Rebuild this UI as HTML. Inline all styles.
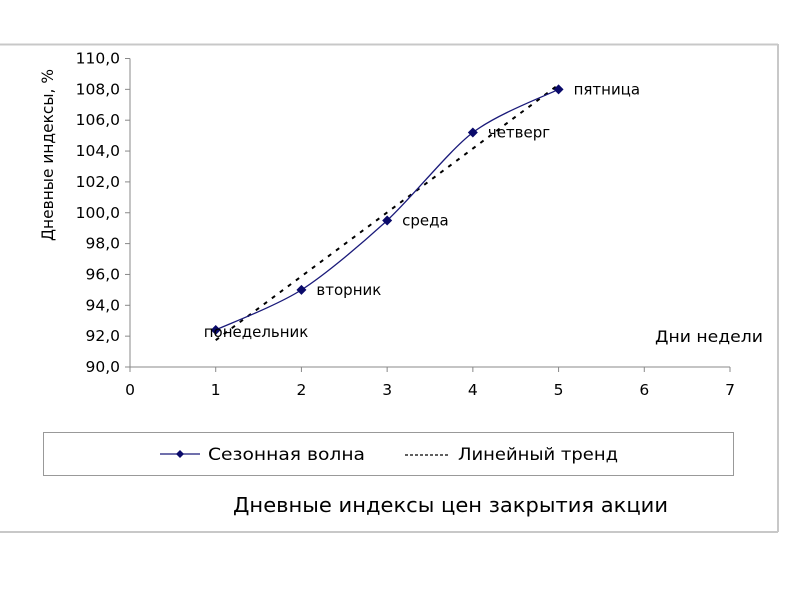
<!DOCTYPE html>
<html><head><meta charset="utf-8"><style>
body{margin:0;background:#fff;}
svg text{font-family:"DejaVu Sans","Liberation Sans",sans-serif;}
</style></head><body>
<svg width="800" height="600" viewBox="0 0 800 600" xmlns="http://www.w3.org/2000/svg">
<line x1="0" y1="44.5" x2="778" y2="44.5" stroke="#c8c8c8" stroke-width="2"/>
<line x1="778" y1="44" x2="778" y2="532" stroke="#c8c8c8" stroke-width="2"/>
<line x1="0" y1="532" x2="778" y2="532" stroke="#c8c8c8" stroke-width="2"/>
<g id="axes"></g>
<g id="marks"></g>
<text x="0" y="0" transform="translate(53,155) rotate(-90)" text-anchor="middle" font-size="16" textLength="172" lengthAdjust="spacingAndGlyphs" fill="#000">Дневные индексы, %</text>
<text x="655" y="342" font-size="16" textLength="108" lengthAdjust="spacingAndGlyphs" fill="#000">Дни недели</text>
<rect x="43.5" y="432.5" width="690" height="43" fill="none" stroke="#999"/>
<g>
<line x1="160" y1="454" x2="200" y2="454" stroke="#1a1a7a" stroke-width="1.2"/>
<path d="M180 450 L184 454 L180 458 L176 454Z" fill="#0a0a6a"/>
<text x="208" y="460" font-size="17" textLength="157" lengthAdjust="spacingAndGlyphs" fill="#000">Сезонная волна</text>
</g>
<g>
<line x1="405" y1="455" x2="449" y2="455" stroke="#000" stroke-width="1.2" stroke-dasharray="3,2"/>
<text x="458" y="460" font-size="17" textLength="160" lengthAdjust="spacingAndGlyphs" fill="#000">Линейный тренд</text>
</g>
<text x="233" y="512" font-size="20" textLength="435" lengthAdjust="spacingAndGlyphs" fill="#000">Дневные индексы цен закрытия акции</text>
</svg>
<script>
const days = [1, 2, 3, 4, 5];
const values = [92.4, 95.0, 99.5, 105.2, 108.0];
const dayNames = ["понедельник", "вторник", "среда", "четверг", "пятница"];
const xTicks = [0, 1, 2, 3, 4, 5, 6, 7];
const yTicks = [90, 92, 94, 96, 98, 100, 102, 104, 106, 108, 110];

const NS = "http://www.w3.org/2000/svg";
const X0 = 130, X1 = 730, Y0 = 367, Y1 = 58.5;
const xs = v => X0 + (v - 0) / 7 * (X1 - X0);
const ys = v => Y0 - (v - 90) / 20 * (Y0 - Y1);
function mk(tag, attrs, parent) { const e = document.createElementNS(NS, tag); for (const k in attrs) e.setAttribute(k, attrs[k]); parent.appendChild(e); return e; }
const axes = document.getElementById('axes'), marks = document.getElementById('marks');

let a = mk('line', {x1: X0, y1: Y1, x2: X0, y2: Y0, stroke: '#888'}, axes);


a = mk('line', {x1: X0, y1: Y0, x2: X1, y2: Y0, stroke: '#888'}, axes);


yTicks.forEach(t => {
  const y = ys(t);
  mk('line', {x1: X0 - 5, y1: y, x2: X0, y2: y, stroke: '#888'}, axes);
  const tx = mk('text', {x: X0 - 10, y: y + 5, 'text-anchor': 'end', 'font-size': 15.5, fill: '#000'}, axes);
  tx.textContent = t.toFixed(1).replace('.', ',');
  
  
});
xTicks.forEach(t => {
  const x = xs(t);
  mk('line', {x1: x, y1: Y0, x2: x, y2: Y0 + 5, stroke: '#888'}, axes);
  const tx = mk('text', {x: x, y: Y0 + 28, 'text-anchor': 'middle', 'font-size': 15.5, fill: '#000'}, axes);
  tx.textContent = t;
  
  
});

const n = days.length;
const mx = days.reduce((s, v) => s + v, 0) / n, my = values.reduce((s, v) => s + v, 0) / n;
let sxy = 0, sxx = 0;
days.forEach((d, i) => { sxy += (d - mx) * (values[i] - my); sxx += (d - mx) * (d - mx); });
const slope = sxy / sxx, icpt = my - slope * mx;
const tr = mk('line', {x1: xs(days[0]), y1: ys(icpt + slope * days[0]), x2: xs(days[n - 1]), y2: ys(icpt + slope * days[n - 1]), stroke: '#000', 'stroke-width': 2, 'stroke-dasharray': '4,6'}, marks);



const P = days.map((d, i) => [xs(d), ys(values[i])]);
let d = `M${P[0][0]},${P[0][1]}`;
for (let i = 0; i < P.length - 1; i++) {
  const p0 = P[Math.max(0, i - 1)], p1 = P[i], p2 = P[i + 1], p3 = P[Math.min(P.length - 1, i + 2)];
  const c1 = [p1[0] + (p2[0] - p0[0]) / 7, p1[1] + (p2[1] - p0[1]) / 7];
  const c2 = [p2[0] - (p3[0] - p1[0]) / 7, p2[1] - (p3[1] - p1[1]) / 7];
  d += ` C${c1[0]},${c1[1]} ${c2[0]},${c2[1]} ${p2[0]},${p2[1]}`;
}
const ln = mk('path', {d: d, fill: 'none', stroke: '#1a1a7a', 'stroke-width': 1.3}, marks);



P.forEach((p, i) => {
  const m = mk('path', {d: `M${p[0]} ${p[1] - 5} L${p[0] + 5} ${p[1]} L${p[0]} ${p[1] + 5} L${p[0] - 5} ${p[1]}Z`, fill: '#0a0a6a'}, marks);
  
  
  const lab = mk('text', {x: i === 0 ? p[0] - 12 : p[0] + 15, y: i === 0 ? p[1] + 7 : p[1] + 5, 'font-size': 15, fill: '#000'}, marks);
  lab.textContent = dayNames[i];
  
  
});
</script>
</body></html>
